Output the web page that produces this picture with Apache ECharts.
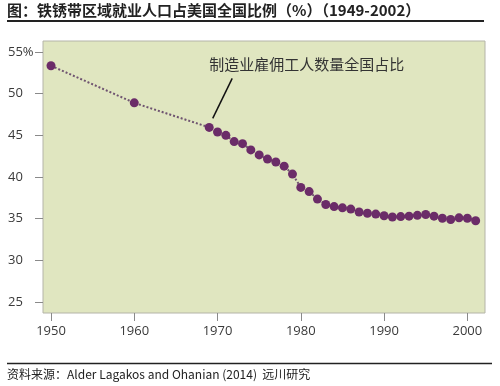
<!DOCTYPE html>
<html>
<head>
<meta charset="utf-8">
<script src="https://cdn.jsdelivr.net/npm/echarts@6/dist/echarts.min.js"></script>
<style>
html,body{margin:0;padding:0;background:#fff;}
#main{width:500px;height:386px;}
</style>
</head>
<body>
<div id="main"></div>
<script>
// Data
var years = [1950, 1960, 1969, 1970, 1971, 1972, 1973, 1974, 1975, 1976, 1977, 1978, 1979,
  1980, 1981, 1982, 1983, 1984, 1985, 1986, 1987, 1988, 1989, 1990, 1991, 1992, 1993,
  1994, 1995, 1996, 1997, 1998, 1999, 2000, 2001];
var shares = [53.35, 48.9, 45.95, 45.4, 45.0, 44.25, 44.0, 43.25, 42.65, 42.15, 41.8, 41.3, 40.35,
  38.75, 38.25, 37.35, 36.7, 36.45, 36.3, 36.15, 35.8, 35.65, 35.55, 35.35, 35.2, 35.25, 35.3,
  35.4, 35.5, 35.3, 35.05, 34.9, 35.1, 35.05, 34.75];
var xTicks = [1950, 1960, 1970, 1980, 1990, 2000];
var yTicks = [25, 30, 35, 40, 45, 50, 55];
var titleText = '图：铁锈带区域就业人口占美国全国比例（%）（1949-2002）';
var sourceText = '资料来源：Alder Lagakos and Ohanian (2014)  远川研究';
var seriesLabel = '制造业雇佣工人数量全国占比';
var annotateYear = 1969;

var chart = echarts.init(document.getElementById('main'), null, {renderer: 'canvas'});
var pts = years.map(function (y, i) { return [y, shares[i]]; });
var font = '"Open Sans", "Noto Sans CJK SC", sans-serif';
var cjk = '"Noto Sans CJK SC", "Noto Sans", sans-serif';

chart.setOption({
  backgroundColor: '#ffffff',
  animation: false,
  grid: {
    left: 43, right: 15, top: 41, bottom: 73,
    show: true, backgroundColor: '#e0e6c0', borderColor: '#b4b4a8', borderWidth: 1
  },
  xAxis: {
    type: 'value', min: 1949.04, max: 2002.12,
    splitLine: {show: false},
    axisLine: {show: false},
    axisTick: {show: true, customValues: xTicks, length: 8, lineStyle: {color: '#8a8a8a', width: 1}},
    axisLabel: {customValues: xTicks, margin: 12, color: '#3a3a3a', fontSize: 13, fontFamily: font,
      formatter: function (v) { return String(v); }}
  },
  yAxis: {
    type: 'value', min: 23.68, max: 56.32,
    splitLine: {show: false},
    axisLine: {show: false},
    axisTick: {show: true, customValues: yTicks, length: 8, lineStyle: {color: '#8a8a8a', width: 1}},
    axisLabel: {
      customValues: yTicks, margin: 35, align: 'left', color: '#3a3a3a', fontSize: 13, fontFamily: font,
      formatter: function (v) { return v === 55 ? '55%' : String(v); }
    }
  },
  series: [{
    type: 'line',
    data: pts,
    clip: false,
    symbol: 'circle',
    symbolSize: 9,
    itemStyle: {color: '#6b2c68'},
    lineStyle: {color: '#6f5470', width: 2, type: [2, 2]}
  }]
});

// annotation anchored to the 1969 data point
var idx = years.indexOf(annotateYear);
var p = chart.convertToPixel({gridIndex: 0}, [years[idx], shares[idx]]);
chart.setOption({
  graphic: [
    {type: 'text', left: 7, top: 3, style: {text: titleText, font: 'bold 15px ' + cjk, fill: '#222'}},
    {type: 'line', shape: {x1: 7, y1: 21, x2: 484, y2: 21}, style: {stroke: '#222', lineWidth: 2}},
    {type: 'line', shape: {x1: 7, y1: 363.5, x2: 492, y2: 363.5}, style: {stroke: '#222', lineWidth: 1.5}},
    {type: 'text', left: 7, top: 368, style: {text: sourceText, font: '12px ' + cjk, fill: '#222'}},
    {type: 'line', shape: {x1: p[0] + 3.5, y1: p[1] - 9, x2: p[0] + 23, y2: p[1] - 49}, style: {stroke: '#111', lineWidth: 1.5}},
    {type: 'text', x: p[0] + 97.5, y: p[1] - 63, style: {text: seriesLabel, font: '15px ' + cjk, fill: '#333', textAlign: 'center', textVerticalAlign: 'middle'}}
  ]
});
</script>
</body>
</html>
